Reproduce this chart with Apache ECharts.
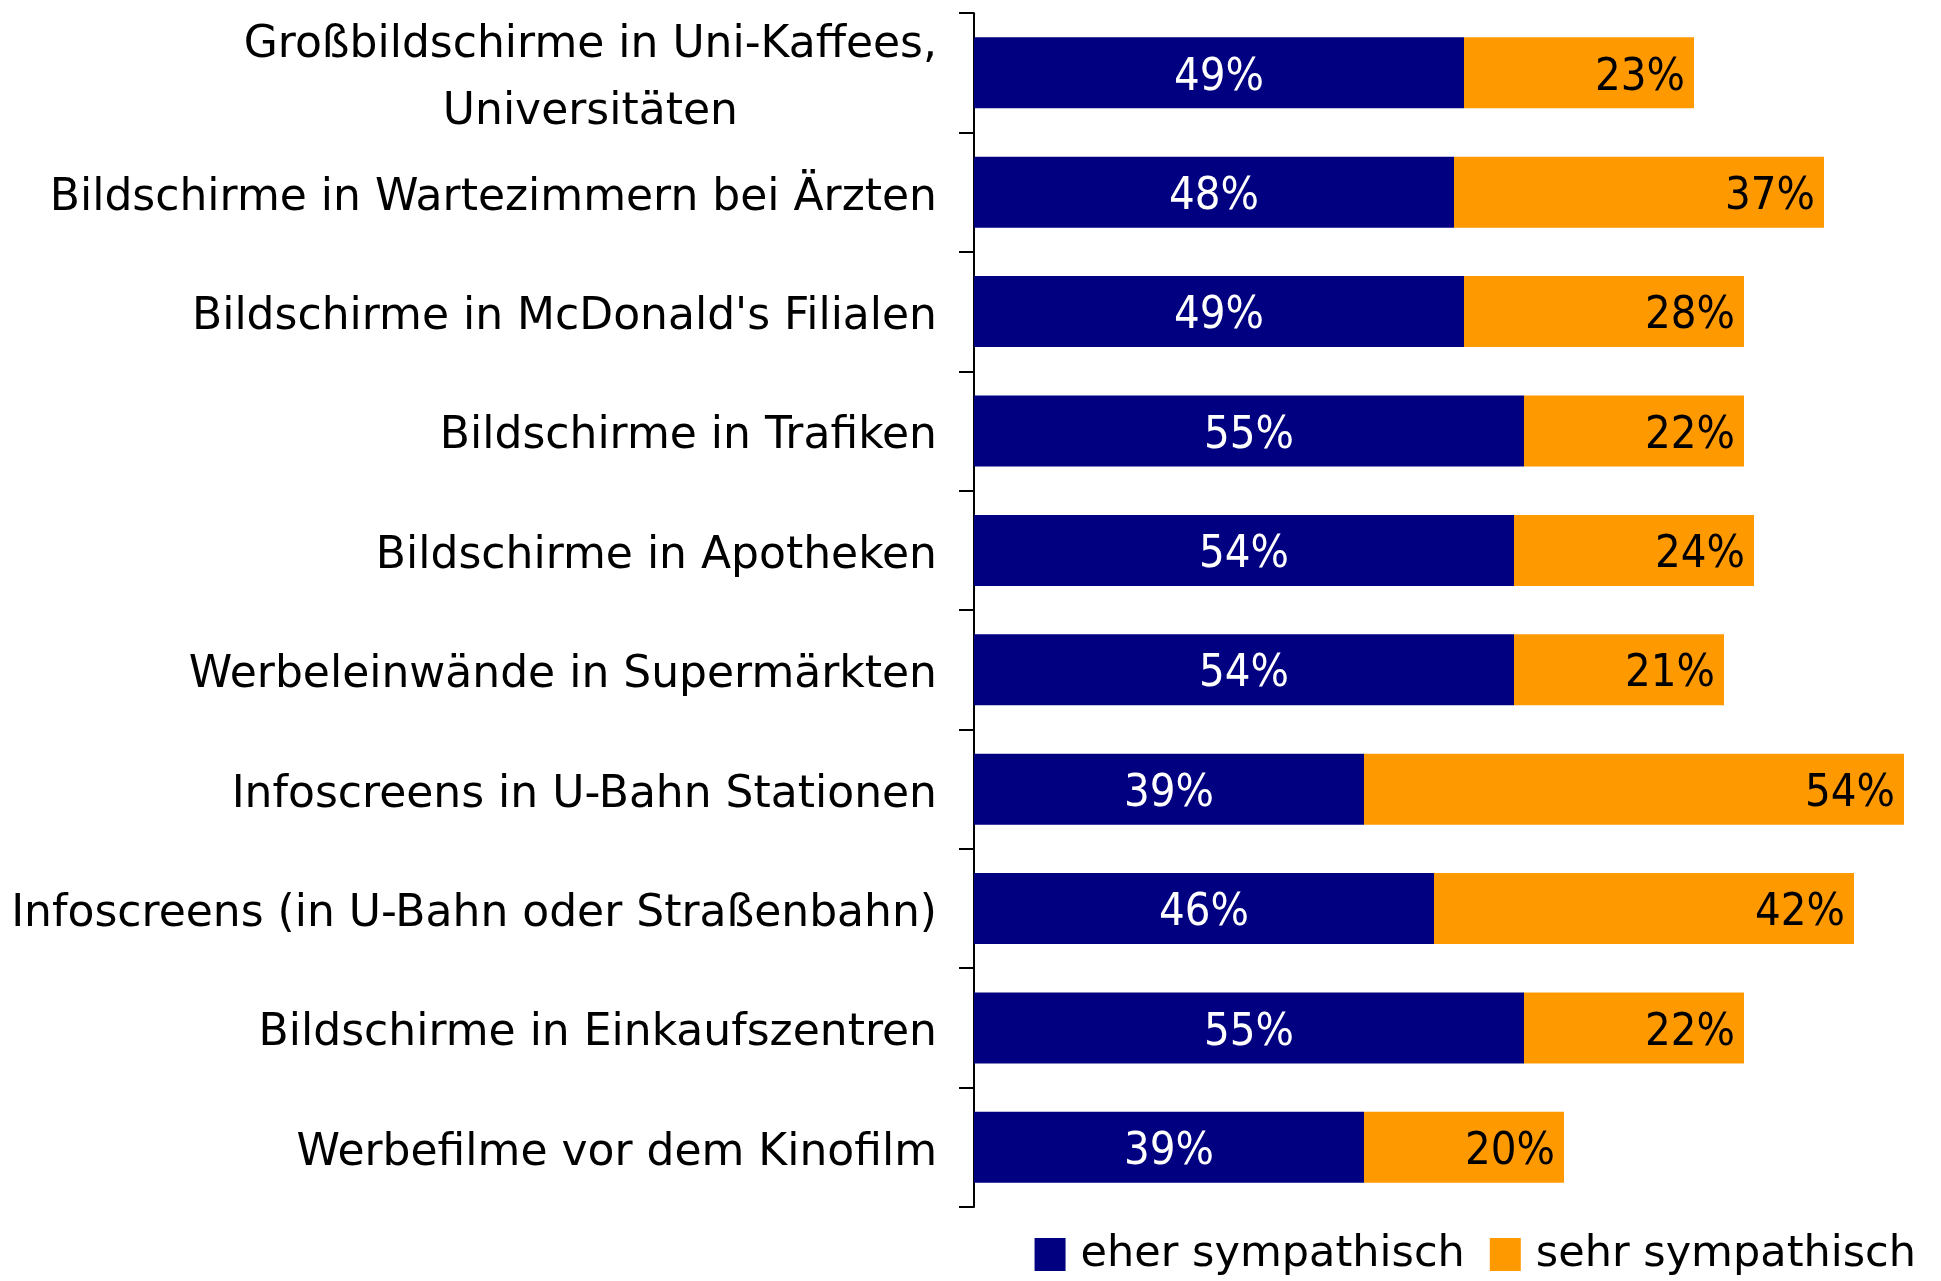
<!DOCTYPE html>
<html>
<head>
<meta charset="utf-8">
<script src="https://cdn.jsdelivr.net/npm/echarts@6/dist/echarts.min.js"></script>
<style>
  html, body { margin: 0; padding: 0; background: #fff; }
  #chart { width: 1941px; height: 1281px; }
</style>
</head>
<body>
<div id="chart"></div>
<script>
// Kategorien (von oben nach unten)
const categories = [
  "Großbildschirme in Uni-Kaffees,\nUniversitäten",
  "Bildschirme in Wartezimmern bei Ärzten",
  "Bildschirme in McDonald's Filialen",
  "Bildschirme in Trafiken",
  "Bildschirme in Apotheken",
  "Werbeleinwände in Supermärkten",
  "Infoscreens in U-Bahn Stationen",
  "Infoscreens (in U-Bahn oder Straßenbahn)",
  "Bildschirme in Einkaufszentren",
  "Werbefilme vor dem Kinofilm"
];
const seriesNames = ["eher sympathisch", "sehr sympathisch"];
const eherValues = [49, 48, 49, 55, 54, 54, 39, 46, 55, 39];
const sehrValues = [23, 37, 28, 22, 24, 21, 54, 42, 22, 20];

const FONT = "'DejaVu Sans', sans-serif";
const FONT_NARROW = "'DejaVu Sans Condensed', 'DejaVu Sans', sans-serif";

const chart = echarts.init(document.getElementById("chart"));

const option = {
  backgroundColor: "#fff",
  animation: false,
  textStyle: { fontFamily: FONT },
  grid: { left: 974, right: 7, top: 10, bottom: 74 },
  legend: {
    data: seriesNames,
    right: 20,
    top: 1228,
    itemWidth: 31,
    itemHeight: 33,
    itemGap: 25,
    icon: "rect",
    textStyle: { fontFamily: FONT, fontSize: 43, color: "#000", padding: [0, 0, 0, 10] }
  },
  xAxis: {
    type: "value",
    min: 0,
    max: 96,
    show: false
  },
  yAxis: {
    type: "category",
    inverse: true,
    data: categories,
    axisLine: { show: true, lineStyle: { color: "#000", width: 2 } },
    axisTick: { show: true, length: 15, lineStyle: { color: "#000", width: 2 } },
    axisLabel: {
      margin: 37,
      color: "#000",
      fontFamily: FONT,
      fontSize: 44,
      lineHeight: 67,
      padding: [12, 0, 0, 0],
      formatter: function (v) {
        return v.split("\n").map(function (s) { return "{c|" + s + "}"; }).join("\n");
      },
      rich: {
        c: { align: "center", fontFamily: FONT, fontSize: 44, lineHeight: 67, color: "#000" }
      }
    }
  },
  series: [
    {
      name: seriesNames[0],
      type: "bar",
      stack: "total",
      barWidth: 71,
      itemStyle: { color: "#000080" },
      label: {
        show: true,
        position: "inside",
        offset: [0, 5],
        color: "#fff",
        fontFamily: FONT_NARROW,
        fontSize: 45,
        formatter: "{c}%"
      },
      data: eherValues
    },
    {
      name: seriesNames[1],
      type: "bar",
      stack: "total",
      barWidth: 71,
      itemStyle: { color: "#FF9900" },
      label: {
        show: true,
        position: "insideRight",
        distance: 9,
        offset: [0, 5],
        color: "#000",
        fontFamily: FONT_NARROW,
        fontSize: 45,
        formatter: "{c}%"
      },
      data: sehrValues
    }
  ]
};

chart.setOption(option);
</script>
</body>
</html>
